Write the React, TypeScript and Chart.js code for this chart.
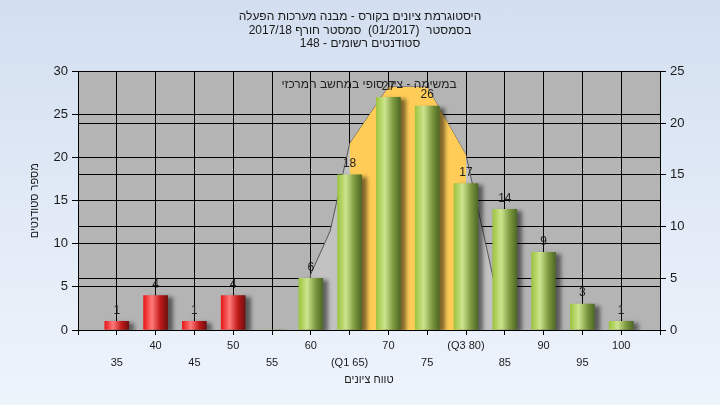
import React, { useEffect, useRef } from 'react';
import { Chart, registerables } from 'chart.js';

Chart.register(...registerables);

const grades = [35, 40, 45, 50, 55, 60, 65, 70, 75, 80, 85, 90, 95, 100];
const counts = [1, 4, 1, 4, 0, 6, 18, 27, 26, 17, 14, 9, 3, 1];
const curveX = [58.8, 60, 62.5, 65, 70, 75, 80, 85];
const curveY = [0, 6.5, 11.5, 21.6, 28.2, 28.2, 20.3, 0];
const iqrX = [65, 70, 75, 80];
const iqrY = [21.6, 28.2, 28.2, 20.3];
const passGrade = 55;
const titleLines = [
  'היסטוגרמת ציונים בקורס - מבנה מערכות הפעלה',
  'בסמסטר  (01/2017)  סמסטר חורף 2017/18',
  'סטודנטים רשומים - 148',
];
const noteText = 'במשימה - ציון סופי במחשב המרכזי';
const yTitle = 'מספר סטודנטים';
const xTitle = 'טווח ציונים';
const specialTicks: Record<number, string> = { 65: '(Q1 65)', 80: '(Q3 80)' };

const FONT = "'Liberation Sans', Arial, sans-serif";

export default function App() {
  const ref = useRef<HTMLCanvasElement | null>(null);

  useEffect(() => {
    if (!ref.current) return;

    const bgPlugin = {
      id: 'plotBg',
      beforeDraw(chart: any) {
        const { ctx, chartArea } = chart;
        ctx.save();
        ctx.fillStyle = '#b4b4b4';
        ctx.fillRect(chartArea.left, chartArea.top, chartArea.right - chartArea.left, chartArea.bottom - chartArea.top);
        ctx.restore();
      },
    };

    const shadowPlugin = {
      id: 'barShadow',
      beforeDatasetDraw(chart: any, args: any) {
        if (args.meta.type !== 'bar') return;
        const ctx = chart.ctx;
        ctx.save();
        ctx.shadowColor = 'rgba(0,0,0,0.5)';
        ctx.shadowOffsetX = 5;
        ctx.shadowOffsetY = 2;
        ctx.shadowBlur = 4;
      },
      afterDatasetDraw(chart: any, args: any) {
        if (args.meta.type !== 'bar') return;
        chart.ctx.restore();
      },
    };

    const labelPlugin = {
      id: 'labels',
      afterDatasetsDraw(chart: any) {
        const { ctx, chartArea } = chart;
        ctx.save();
        ctx.font = `12px ${FONT}`;
        ctx.fillStyle = '#222222';
        ctx.textAlign = 'center';
        ctx.textBaseline = 'middle';
        ctx.fillText(noteText, (chartArea.left + chartArea.right) / 2, chartArea.top + 13);
        chart.data.datasets.forEach((ds: any, di: number) => {
          const meta = chart.getDatasetMeta(di);
          if (meta.type !== 'bar') return;
          meta.data.forEach((el: any, i: number) => {
            const v = counts[i];
            if (!v) return;
            ctx.fillText(String(v), el.x, el.y - 11);
          });
        });
        ctx.restore();
      },
    };

    const barColor = (c: any) => {
      const chart = c.chart;
      const xs = chart.scales && chart.scales.x;
      const i = c.dataIndex ?? 0;
      const red = grades[i] < passGrade;
      const flat = red ? '#e02020' : '#9cc048';
      if (!xs || c.type !== 'data') return flat;
      const cx = xs.getPixelForValue(grades[i]);
      if (!Number.isFinite(cx)) return flat;
      const g = chart.ctx.createLinearGradient(cx - 12, 0, cx + 12, 0);
      if (red) {
        g.addColorStop(0, '#e81818');
        g.addColorStop(0.35, '#ff7a7a');
        g.addColorStop(0.7, '#c01818');
        g.addColorStop(1, '#701010');
      } else {
        g.addColorStop(0, '#9cc440');
        g.addColorStop(0.35, '#cde48e');
        g.addColorStop(0.7, '#7d9a40');
        g.addColorStop(1, '#4e6826');
      }
      return g;
    };

    const chart = new Chart(ref.current, {
      type: 'bar',
      data: {
        datasets: [
          {
            type: 'bar',
            data: grades.map((g, i) => ({ x: g, y: counts[i] })),
            backgroundColor: barColor as any,
            borderWidth: 0,
            barThickness: 24,
            yAxisID: 'y',
            order: 0,
          } as any,
          {
            type: 'line',
            data: iqrX.map((x, i) => ({ x, y: iqrY[i] })),
            backgroundColor: '#ffcc57',
            borderWidth: 0,
            borderColor: 'rgba(0,0,0,0)',
            pointRadius: 0,
            fill: 'origin',
            tension: 0,
            yAxisID: 'y',
            order: 1,
          } as any,
          {
            type: 'line',
            data: curveX.map((x, i) => ({ x, y: curveY[i] })),
            backgroundColor: '#c2c2c2',
            borderColor: '#555555',
            borderWidth: 1,
            pointRadius: 0,
            fill: 'origin',
            tension: 0,
            yAxisID: 'y',
            order: 2,
          } as any,
        ],
      },
      options: {
        responsive: false,
        animation: false,
        devicePixelRatio: 1,
        layout: { padding: 0 },
        plugins: {
          legend: { display: false },
          tooltip: { enabled: false },
          title: {
            display: true,
            text: titleLines,
            color: '#1a1a1a',
            font: { family: FONT, size: 12, weight: 'normal', lineHeight: 1.125 },
            padding: { top: 10, bottom: 21 },
          },
        },
        scales: {
          x: {
            type: 'linear',
            offset: false,
            min: 30,
            max: 105,
            afterFit(scale: any) {
              scale.height = 75;
            },
            grid: { color: '#000000', tickLength: 5, lineWidth: 1, tickColor: '#000000', offset: false },
            border: { color: '#000000' },
            ticks: {
              stepSize: 5,
              autoSkip: false,
              maxRotation: 0,
              minRotation: 0,
              padding: 2,
              color: '#1a1a1a',
              font: { family: FONT, size: 11, lineHeight: '17px' } as any,
              callback(value: any) {
                const v = Number(value);
                if (v < 35 || v > 100) return '';
                const label = specialTicks[v] ?? String(v);
                return (v / 5) % 2 === 0 ? [label] : ['', label];
              },
            },
            title: {
              display: true,
              text: xTitle,
              color: '#1a1a1a',
              font: { family: FONT, size: 11 },
              padding: { top: 0, bottom: 18 },
            },
          },
          y: {
            type: 'linear',
            position: 'left',
            min: 0,
            max: 30,
            afterFit(scale: any) {
              scale.width = 78;
            },
            grid: { color: '#000000', tickLength: 6, lineWidth: 1, tickColor: '#000000' },
            border: { color: '#000000' },
            ticks: {
              stepSize: 5,
              padding: 4,
              color: '#1a1a1a',
              font: { family: FONT, size: 13 },
            },
            title: {
              display: true,
              text: yTitle,
              color: '#1a1a1a',
              font: { family: FONT, size: 11 },
              padding: { top: 28, bottom: 0 },
            },
          },
          y2: {
            type: 'linear',
            position: 'right',
            min: 0,
            max: 25,
            afterFit(scale: any) {
              scale.width = 60;
            },
            grid: { color: '#000000', tickLength: 6, lineWidth: 1, tickColor: '#000000', drawOnChartArea: true },
            border: { color: '#000000' },
            ticks: {
              stepSize: 5,
              padding: 4,
              color: '#1a1a1a',
              font: { family: FONT, size: 13 },
            },
          },
        },
      } as any,
      plugins: [bgPlugin, shadowPlugin, labelPlugin],
    });

    return () => chart.destroy();
  }, []);

  return (
    <div
      style={{
        position: 'fixed',
        left: 0,
        top: 0,
        width: 720,
        height: 405,
        background: 'linear-gradient(to bottom, #d3dff0 0%, #eef4fc 100%)',
      }}
    >
      <canvas ref={ref} width={720} height={405} style={{ display: 'block', width: 720, height: 405 }} />
    </div>
  );
}
